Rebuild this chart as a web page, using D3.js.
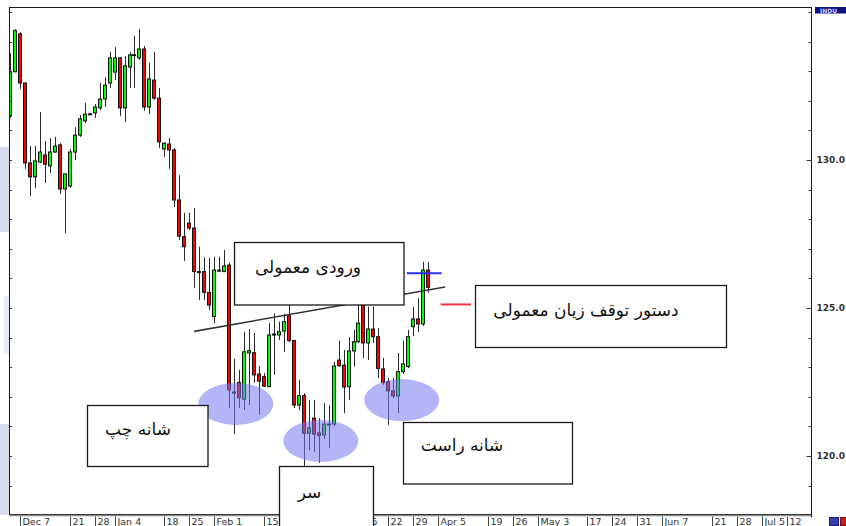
<!DOCTYPE html>
<html>
<head>
<meta charset="utf-8">
<script src="https://cdn.jsdelivr.net/npm/d3@7"></script>
<style>
  body { margin: 0; background: #fff; }
  svg { display: block; }
</style>
</head>
<body>
<svg id="chart"></svg>
<script>
const W = 846, H = 526;
const frame = { left: 9.5, top: 7.5, right: 811.5, bottom: 514.5 };

// trading calendar
const firstDay = "2009-12-03";
const lastDay = "2010-07-12";
const holidays = ["2010-01-01"];

// daily candles, one per trading day from firstDay
const open  = [131.49,132.98,134.26,132.60,129.90,129.43,129.93,130.17,129.80,130.27,130.51,129.02,129.12,130.27,130.84,131.32,131.55,131.59,131.76,132.06,132.60,132.97,133.45,131.76,133.14,133.55,133.45,133.75,131.79,132.70,132.09,130.37,130.54,130.34,128.65,127.41,127.87,127.70,126.23,126.23,125.53,124.71,126.28,126.23,126.45,122.16,122.48,121.92,123.48,123.49,122.77,122.68,122.34,124.09,124.09,124.22,124.74,123.90,121.72,122.04,120.77,121.28,120.78,120.71,121.08,121.08,123.24,123.07,122.34,123.55,123.86,125.44,123.82,124.29,124.03,122.94,122.51,122.20,122.03,122.85,123.02,124.37,124.63,124.46,126.28];
const high  = [133.61,134.42,134.32,132.62,130.47,130.47,131.62,130.64,130.74,130.78,130.57,129.55,130.37,131.11,131.52,131.93,131.60,131.89,132.60,132.80,133.65,133.82,133.48,133.51,133.65,134.19,134.43,133.85,133.28,133.65,132.43,130.59,130.74,130.41,129.49,128.21,128.22,128.38,127.07,126.72,126.69,126.73,126.73,126.96,126.52,123.28,122.91,124.19,124.29,124.16,123.04,122.80,124.49,124.82,124.54,124.80,125.10,123.92,122.57,122.13,121.89,121.89,121.28,121.79,121.72,123.19,123.90,123.58,124.02,124.26,125.27,125.61,125.05,125.05,124.32,123.31,122.63,122.63,123.48,123.89,124.26,125.04,125.34,126.56,126.55];
const low   = [131.42,132.97,132.40,129.70,128.78,129.05,129.90,129.22,129.56,130.24,128.85,127.53,129.05,130.00,130.78,131.25,131.52,131.42,131.69,131.79,132.43,132.70,131.49,131.28,132.43,132.43,133.38,131.66,131.55,132.03,130.41,130.10,129.70,128.41,127.30,126.59,127.64,125.68,125.27,125.27,124.93,124.48,126.22,126.22,121.62,120.74,121.62,121.55,121.72,122.47,121.39,122.33,122.33,122.74,123.92,123.52,123.85,121.62,121.55,119.64,120.20,120.14,119.77,120.57,120.27,121.01,123.01,121.45,121.89,123.02,123.82,123.31,123.24,123.82,122.63,122.40,121.05,121.96,121.45,122.77,122.97,124.05,124.19,124.39,125.52];
const close = [132.97,134.37,132.60,129.90,129.43,129.97,130.27,129.86,130.27,130.47,129.02,129.53,130.27,130.84,131.39,131.55,131.56,131.79,132.06,132.53,133.45,133.45,131.76,133.18,133.55,133.56,133.75,131.79,132.74,132.09,130.61,130.57,130.34,128.65,127.43,127.07,127.70,126.23,126.22,125.53,125.10,126.28,126.25,126.42,122.23,122.15,121.97,123.52,123.56,122.74,122.53,122.36,124.09,124.12,124.20,124.54,123.90,121.72,122.04,120.77,120.95,120.74,120.69,121.08,121.07,123.04,123.05,122.33,123.55,123.86,124.49,123.82,124.29,124.03,122.96,122.48,122.20,122.03,122.85,123.11,124.03,124.63,124.46,126.28,125.70];

// axis labels
const tickDates = ["2009-12-07","2009-12-21","2009-12-28","2010-01-04","2010-01-18","2010-01-25","2010-02-01","2010-02-15","2010-02-22","2010-03-01","2010-03-15","2010-03-22","2010-03-29","2010-04-05","2010-04-19","2010-04-26","2010-05-03","2010-05-17","2010-05-24","2010-05-31","2010-06-07","2010-06-21","2010-06-28","2010-07-05","2010-07-12"];
const priceTicks = [120, 125, 130];
const priceMinor = d3.range(119, 136);

// head & shoulders annotations (trading-day index, price)
const neckDays = [37, 87.4];
const neckPrices = [124.21, 125.71];
const entryDays = [79.7, 86.7];
const entryPrice = 126.17;
const stopDays = [86.5, 92.6];
const stopPrice = 125.12;
const zoneDays = [45.35, 62.43, 78.68];
const zonePrices = [121.76, 120.51, 121.89];
const zoneHalfDays = 7.53;
const zoneHalfPrice = 0.71;

// text boxes (layout)
const notes = [
  { text: "ورودی معمولی", box: [234.5, 242.5, 169.5, 62.5], at: [308, 267] },
  { text: "دستور توقف زیان معمولی", box: [475.5, 285.5, 251, 62], at: [586, 310] },
  { text: "شانه چپ", box: [87.5, 405.5, 120.5, 61], at: [138, 428.5] },
  { text: "سر", box: [279.5, 466.5, 94, 70], at: [309.5, 492] },
  { text: "شانه راست", box: [403.5, 422.5, 169, 61.5], at: [462, 445] }
];

const parse = d3.timeParse("%Y-%m-%d");
const iso = d3.timeFormat("%Y-%m-%d");
const tradingDays = d3.timeDay
  .range(parse(firstDay), d3.timeDay.offset(parse(lastDay), 1))
  .filter(d => d.getDay() !== 0 && d.getDay() !== 6 && !holidays.includes(iso(d)));
const dayIndex = new Map(tradingDays.map((d, i) => [iso(d), i]));

const candles = open.map((o, i) => ({ i, o, h: high[i], l: low[i], c: close[i] }));

const x = d3.scaleLinear().domain([0, tradingDays.length - 1]).range([10.04, 786.6]);
const y = d3.scaleLinear().domain([120, 130]).range([456, 160]);

const svg = d3.select("#chart").attr("width", W).attr("height", H)
  .style("font-family", "'DejaVu Sans', sans-serif");

svg.append("rect").attr("width", W).attr("height", H).attr("fill", "#fff");

// strips of the neighbouring window on the left
svg.append("rect").attr("x", 0).attr("y", 147).attr("width", 9).attr("height", 85).attr("fill", "#d6dce9");
svg.append("rect").attr("x", 4).attr("y", 296).attr("width", 5).attr("height", 58).attr("fill", "#e9edf4");
svg.append("rect").attr("x", 0).attr("y", 424).attr("width", 9).attr("height", 91).attr("fill", "#d6dce9");

svg.append("clipPath").attr("id", "plotClip")
  .append("rect")
  .attr("x", frame.left).attr("y", frame.top)
  .attr("width", frame.right - frame.left).attr("height", frame.bottom - frame.top);

const plot = svg.append("g").attr("clip-path", "url(#plotClip)");

// candles
const cg = plot.append("g").attr("id", "gCandles");
cg.selectAll("line.wick")
  .data(candles)
  .enter()
  .append("line")
  .attr("class", "wick")
  .attr("x1", d => Math.round(x(d.i)) + 0.5)
  .attr("x2", d => Math.round(x(d.i)) + 0.5)
  .attr("y1", d => y(d.h))
  .attr("y2", d => y(d.l))
  .attr("stroke", "#2a2a2a")
  .attr("stroke-width", 1);

cg.selectAll("rect.body")
  .data(candles)
  .enter()
  .append("rect")
  .attr("class", "body")
  .attr("x", d => Math.round(x(d.i)) - 1.5)
  .attr("width", 3)
  .attr("y", d => y(Math.max(d.o, d.c)))
  .attr("height", d => Math.max(1, Math.abs(y(d.o) - y(d.c))))
  .attr("fill", d => d.c >= d.o ? "#00ff00" : "#ff0000")
  .attr("stroke", "#111")
  .attr("stroke-width", 1);

// shoulder / head zones
plot.selectAll("ellipse.zone")
  .data(zoneDays.map((d, k) => ({ d, p: zonePrices[k] })))
  .enter()
  .append("ellipse")
  .attr("class", "zone")
  .attr("cx", d => x(d.d))
  .attr("cy", d => y(d.p))
  .attr("rx", x(zoneHalfDays) - x(0))
  .attr("ry", y(0) - y(zoneHalfPrice))
  .attr("fill", "#7479ee")
  .attr("fill-opacity", 0.55);

// neckline
plot.append("line")
  .attr("x1", x(neckDays[0])).attr("y1", y(neckPrices[0]))
  .attr("x2", x(neckDays[1])).attr("y2", y(neckPrices[1]))
  .attr("stroke", "#333")
  .attr("stroke-width", 1.6);

// entry and stop levels
plot.append("line")
  .attr("x1", x(entryDays[0])).attr("x2", x(entryDays[1]))
  .attr("y1", y(entryPrice)).attr("y2", y(entryPrice))
  .attr("stroke", "#2d2df5")
  .attr("stroke-width", 2);

plot.append("line")
  .attr("x1", x(stopDays[0])).attr("x2", x(stopDays[1]))
  .attr("y1", y(stopPrice)).attr("y2", y(stopPrice))
  .attr("stroke", "#f5333d")
  .attr("stroke-width", 2);

// frame
svg.append("rect")
  .attr("x", frame.left).attr("y", frame.top)
  .attr("width", frame.right - frame.left).attr("height", frame.bottom - frame.top)
  .attr("fill", "none")
  .attr("stroke", "#1a1a1a")
  .attr("stroke-width", 1);
svg.append("line")
  .attr("x1", frame.left).attr("x2", frame.right + 0.5)
  .attr("y1", frame.bottom + 1).attr("y2", frame.bottom + 1)
  .attr("stroke", "#8a8a8a")
  .attr("stroke-width", 1.5);
svg.append("line")
  .attr("x1", frame.right).attr("x2", frame.right)
  .attr("y1", frame.bottom).attr("y2", frame.bottom + 3)
  .attr("stroke", "#1a1a1a");

// price ticks: minor every 1.0 on both sides, major labelled on the right
svg.append("g").selectAll("line")
  .data(priceMinor)
  .enter()
  .append("line")
  .attr("x1", d => priceTicks.includes(d) ? frame.right - 5 : frame.right - 3)
  .attr("x2", frame.right)
  .attr("y1", d => Math.round(y(d)) + 0.5)
  .attr("y2", d => Math.round(y(d)) + 0.5)
  .attr("stroke", "#333");

svg.append("g").selectAll("line")
  .data(priceMinor)
  .enter()
  .append("line")
  .attr("x1", frame.left)
  .attr("x2", frame.left + 2.5)
  .attr("y1", d => Math.round(y(d)) + 0.5)
  .attr("y2", d => Math.round(y(d)) + 0.5)
  .attr("stroke", "#333");

const yAxis = svg.append("g")
  .attr("id", "gYAxis")
  .attr("transform", `translate(${frame.right}, 0)`)
  .call(d3.axisRight(y).tickValues(priceTicks).tickFormat(d3.format(".1f")).tickSize(0).tickPadding(5));
yAxis.select(".domain").remove();
yAxis.selectAll("text")
  .attr("fill", "#333")
  .style("font-size", "9px")
  .style("font-weight", "bold")
  .style("font-family", "'DejaVu Sans', sans-serif");

// date axis
const fmtMonth = d3.timeFormat("%b %-d");
const fmtDay = d3.timeFormat("%-d");
const dateTicks = tickDates.map((s, k) => {
  const d = parse(s);
  const prev = k > 0 ? parse(tickDates[k - 1]) : null;
  const first = !prev || prev.getMonth() !== d.getMonth();
  return { i: dayIndex.get(s), label: first ? fmtMonth(d) : fmtDay(d) };
});

const xg = svg.append("g").attr("id", "gXAxis");
xg.selectAll("line")
  .data(dateTicks)
  .enter()
  .append("line")
  .attr("x1", d => Math.round(x(d.i)) + 0.5)
  .attr("x2", d => Math.round(x(d.i)) + 0.5)
  .attr("y1", frame.bottom + 2)
  .attr("y2", H)
  .attr("stroke", "#444");
xg.selectAll("text")
  .data(dateTicks)
  .enter()
  .append("text")
  .attr("x", d => Math.round(x(d.i)) + 2.5)
  .attr("y", 524.5)
  .attr("fill", "#333")
  .style("font-size", "9.5px")
  .text(d => d.label);

// symbol tag and window buttons
svg.append("rect").attr("x", 815).attr("y", 7).attr("width", 31).attr("height", 6.5).attr("fill", "#12127e");
svg.append("text").attr("x", 820).attr("y", 13).attr("fill", "#d8d8ff")
  .style("font-size", "6px").style("font-weight", "bold").text("INDU");
svg.append("rect").attr("x", 829.5).attr("y", 517.5).attr("width", 9).attr("height", 8).attr("fill", "#3b3bb0").attr("stroke", "#1c1c70");
svg.append("rect").attr("x", 840.5).attr("y", 517.5).attr("width", 6).attr("height", 8).attr("fill", "#c0202a").attr("stroke", "#701010");

// annotation boxes
const ng = svg.append("g").attr("id", "gNotes");
ng.selectAll("rect")
  .data(notes)
  .enter()
  .append("rect")
  .attr("x", d => d.box[0]).attr("y", d => d.box[1])
  .attr("width", d => d.box[2]).attr("height", d => d.box[3])
  .attr("fill", "#fff")
  .attr("stroke", "#1a1a1a")
  .attr("stroke-width", 1.3);
ng.selectAll("text")
  .data(notes)
  .enter()
  .append("text")
  .attr("x", d => d.at[0]).attr("y", d => d.at[1])
  .attr("text-anchor", "middle")
  .attr("dominant-baseline", "central")
  .attr("direction", "rtl")
  .attr("fill", "#111")
  .style("font-size", "17px")
  .text(d => d.text);
</script>
</body>
</html>
